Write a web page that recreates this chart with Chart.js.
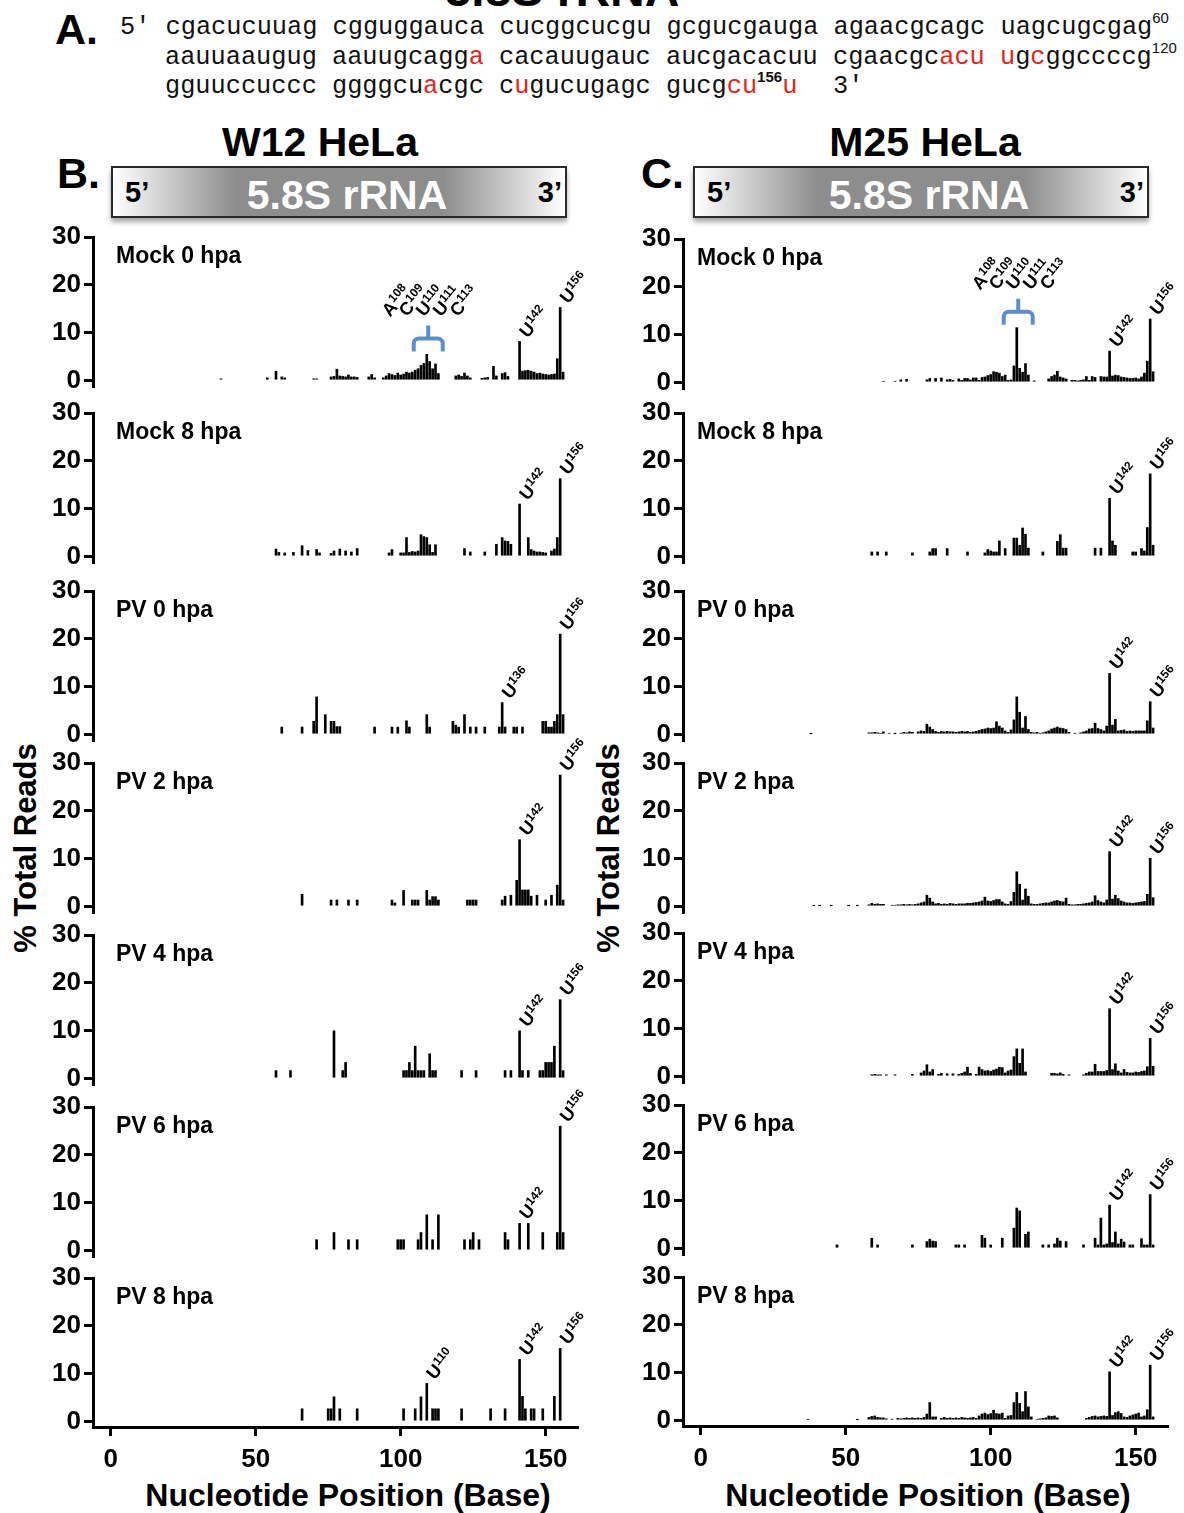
<!DOCTYPE html>
<html>
<head>
<meta charset="utf-8">
<script src="https://cdn.jsdelivr.net/npm/chart.js@4.4.1/dist/chart.umd.min.js"></script>
<style>
body{margin:0;width:1184px;height:1513px;position:relative;overflow:hidden;background:#fff;font-family:"Liberation Sans",Arial,sans-serif;color:#000}
.t{position:absolute;white-space:pre;line-height:1;font-weight:bold}
.seq{position:absolute;white-space:pre;line-height:1;font-family:"Liberation Mono","Courier New",monospace;font-size:25.3px;color:#111}
.seq .r{color:#e2261b}
.seq sup{font-family:"Liberation Sans",Arial,sans-serif;font-size:15px;vertical-align:baseline;position:relative;top:-11px}
.seq sup.b{font-weight:bold}
.box{position:absolute;top:166px;width:456px;height:52px;box-sizing:border-box;border:2px solid #2a2a2a;background:linear-gradient(to right,#fff 0%,#8d8d8d 27%,#8d8d8d 73%,#fff 100%);box-shadow:0 4px 5px rgba(0,0,0,.35)}
.ytitle{position:absolute;font-weight:bold;font-size:31px;white-space:nowrap;line-height:1;transform:translate(-50%,-50%) rotate(-90deg)}
.xtitle{position:absolute;top:1479px;width:600px;text-align:center;font-weight:bold;font-size:32px;line-height:1;white-space:nowrap}
canvas{position:absolute}
</style>
</head>
<body>
<div class="t" style="left:0;width:1124px;text-align:center;top:-34px;font-size:48px">5.8S rRNA</div>
<div class="t" style="left:55px;top:8px;font-size:43px">A.</div>
<div class="seq" style="left:120px;top:15px">5′ cgacucuuag cgguggauca cucggcucgu gcgucgauga agaacgcagc uagcugcgag<sup>60</sup></div>
<div class="seq" style="left:165px;top:45px">aauuaaugug aauugcagg<span class="r">a</span> cacauugauc aucgacacuu cgaacgc<span class="r">acu</span> <span class="r">u</span>g<span class="r">c</span>ggccccg<sup>120</sup></div>
<div class="seq" style="left:165px;top:74px">gguuccuccc ggggcu<span class="r">a</span>cgc c<span class="r">u</span>gucugagc gucg<span class="r">cu</span><sup class="b">156</sup><span class="r">u</span></div>
<div class="seq" style="left:833px;top:74px">3′</div>

<div class="t" style="left:120px;width:400px;text-align:center;top:122px;font-size:41px">W12 HeLa</div>
<div class="t" style="left:725px;width:400px;text-align:center;top:122px;font-size:41px">M25 HeLa</div>
<div class="t" style="left:57px;top:152px;font-size:43px">B.</div>
<div class="t" style="left:641px;top:152px;font-size:43px">C.</div>
<div class="box" style="left:111px">
  <div class="t" style="left:12px;top:10px;font-size:29px">5’</div>
  <div class="t" style="left:8px;width:452px;text-align:center;top:7px;font-size:41px;color:#fff">5.8S rRNA</div>
  <div class="t" style="right:3px;top:10px;font-size:29px">3’</div>
</div>
<div class="box" style="left:693px">
  <div class="t" style="left:12px;top:10px;font-size:29px">5’</div>
  <div class="t" style="left:8px;width:452px;text-align:center;top:7px;font-size:41px;color:#fff">5.8S rRNA</div>
  <div class="t" style="right:3px;top:10px;font-size:29px">3’</div>
</div>
<div class="ytitle" style="left:25px;top:848px">% Total Reads</div>
<div class="ytitle" style="left:608px;top:848px">% Total Reads</div>
<div class="xtitle" style="left:48px">Nucleotide Position (Base)</div>
<div class="xtitle" style="left:628px">Nucleotide Position (Base)</div>

<script>
// tick values and panel names
const xTicks = [0, 50, 100, 150];
const yTicks = [0, 10, 20, 30];
const panelTitles = ['Mock 0 hpa', 'Mock 8 hpa', 'PV 0 hpa', 'PV 2 hpa', 'PV 4 hpa', 'PV 6 hpa', 'PV 8 hpa'];

// W12 HeLa: [plotted position, % total reads]
const w12Mock0 = [[38,0.4],[54,0.6],[57,2],[59,0.8],[60,0.6],[70,0.4],[71,0.4],[76,0.8],[77,0.9],[78,2.4],[79,1],[80,0.9],[81,0.8],[82,1.2],[83,0.8],[84,0.8],[85,0.7],[89,0.8],[90,1.3],[91,0.6],[94,0.6],[95,1],[96,1.5],[97,1.3],[98,1.1],[99,1.6],[100,1.2],[101,1.4],[102,1.8],[103,1.6],[104,1.8],[105,2.2],[106,2.5],[107,3.2],[108,3.6],[109,5.5],[110,4],[111,2.5],[112,3.5],[113,1.5],[119,1],[120,1.2],[121,0.9],[122,1.6],[123,1],[124,0.6],[128,0.5],[129,0.6],[130,0.7],[132,3],[133,1],[135,1.5],[136,1.7],[137,0.9],[141,8.2],[142,2],[143,2.1],[144,2.2],[145,2],[146,1.8],[147,1.5],[148,1.6],[149,1.4],[150,1.3],[151,1.2],[152,1.3],[153,1.4],[154,4.6],[155,15.3],[156,1.8]];
const w12Mock8 = [[57,1.6],[58,0.9],[60,0.8],[63,0.9],[66,2.3],[68,1.3],[71,1.5],[72,0.8],[76,0.7],[77,1.2],[79,1.6],[81,1.2],[83,1],[85,1.7],[96,0.8],[97,1.5],[100,0.8],[101,0.8],[102,4],[103,0.9],[104,1.1],[105,1],[106,1.2],[107,4.6],[108,4.2],[109,4],[110,2.5],[111,0.9],[112,2.5],[122,1.7],[124,1],[129,1],[133,2.6],[135,4],[136,3.3],[137,3.2],[138,2.6],[141,11],[144,4],[145,1.5],[146,1.2],[147,1],[148,1],[149,0.9],[150,0.8],[152,1.2],[153,1.6],[154,4],[155,16.3]];
const w12PV0 = [[59,1.6],[66,1.6],[70,2.8],[71,7.9],[74,4.2],[76,2.8],[77,2.8],[78,1.7],[79,1.7],[91,1.6],[97,1.6],[99,1.6],[102,2.9],[103,1.6],[109,4.2],[110,1.6],[118,2.8],[119,2],[120,1.6],[122,4.2],[124,1.6],[126,1.6],[129,1.6],[134,1.6],[135,6.7],[136,1.6],[139,1.6],[140,1.6],[142,1.6],[149,2.8],[150,2.8],[151,1.6],[152,1.6],[153,2.8],[154,4.2],[155,21],[156,4.2]];
const w12PV2 = [[66,2.6],[76,1.4],[78,1.4],[82,1.4],[85,1.4],[97,1.4],[98,0.8],[101,3.4],[104,1.4],[105,1.4],[106,1.4],[109,3.4],[110,1.4],[111,2.1],[112,2.1],[113,1.4],[123,1.4],[124,1.4],[125,1.4],[126,1.4],[135,1.4],[136,2.2],[138,2.4],[140,5.5],[141,14],[142,3.5],[143,3.5],[144,3.5],[145,2.2],[147,2.4],[150,1.4],[152,2.4],[154,4.5],[155,27.5],[156,1.4]];
const w12PV4 = [[57,1.7],[62,1.7],[77,10],[80,1.7],[81,3.4],[101,1.7],[102,1.7],[103,3.4],[104,1.7],[105,6.8],[106,1.7],[107,1.7],[108,1.7],[110,5.2],[111,1.7],[112,1.7],[121,1.7],[126,1.7],[136,1.7],[138,1.7],[141,10],[142,1.7],[144,1.7],[148,1.7],[149,1.7],[150,3.4],[151,3.4],[152,3.4],[153,6.8],[155,16.5],[156,1.7]];
const w12PV6 = [[71,2.3],[77,3.8],[82,2.3],[85,2.3],[99,2.3],[100,2.3],[101,2.3],[106,2.3],[107,3.8],[109,7.5],[111,2.3],[113,7.5],[122,2.3],[124,2.3],[125,3.8],[127,2.3],[136,3.8],[137,2.3],[141,5.7],[144,5.7],[149,3.8],[154,3.8],[155,26],[156,3.8]];
const w12PV8 = [[66,2.7],[75,2.7],[76,2.7],[77,5.2],[79,2.7],[85,2.7],[101,2.7],[105,2.7],[107,5.2],[109,8],[111,2.7],[112,2.7],[113,2.7],[121,2.7],[131,2.7],[136,2.7],[141,13],[142,5.3],[143,2.7],[145,2.7],[146,2.7],[149,2.7],[153,5.3],[155,15.3]];

// M25 HeLa
const m25Mock0 = [[63,0.3],[67,0.3],[69,0.6],[71,0.7],[78,0.6],[79,0.9],[81,0.9],[83,1],[85,0.6],[86,0.7],[87,0.5],[89,0.8],[90,0.5],[91,0.9],[92,0.9],[93,0.6],[94,1],[95,1],[96,0.5],[97,1.1],[98,1.2],[99,1.5],[100,1.7],[101,2.3],[102,2.2],[103,2],[104,1.3],[105,1.6],[106,0.5],[107,0.6],[108,3.5],[109,11.5],[110,3],[111,2.2],[112,4],[113,1.6],[115,0.4],[120,0.8],[121,1.3],[122,1.6],[123,2.4],[124,1.2],[125,1],[126,0.8],[128,0.5],[129,0.5],[130,0.4],[131,0.5],[132,0.6],[133,1.3],[134,0.5],[135,1.3],[136,1.1],[138,1.3],[139,1.2],[140,1.2],[141,6.6],[142,1.4],[143,1.6],[144,1.5],[145,1.2],[146,1.1],[147,1],[148,0.9],[149,0.9],[150,1],[151,0.8],[152,1.2],[153,2],[154,4.5],[155,13.3],[156,2.3]];
const m25Mock8 = [[59,1],[61,1],[64,1],[73,0.8],[79,1],[80,1.7],[81,1.7],[85,1.7],[92,1],[98,0.8],[99,1.5],[100,1.2],[101,1],[102,1],[103,3.3],[105,1.7],[108,3.9],[109,3.9],[110,2.4],[111,6],[112,4.7],[113,1.8],[118,1],[123,3.2],[124,4.6],[125,1.8],[126,1.8],[136,1.8],[138,1.8],[141,12.2],[142,3.3],[143,2.4],[149,1],[150,1],[152,1.7],[153,1.2],[154,6.1],[155,17.3],[156,2.4]];
const m25PV0 = [[38,0.2],[58,0.4],[59,0.4],[60,0.5],[61,0.4],[62,0.3],[63,0.6],[65,0.3],[67,0.2],[69,0.3],[70,0.5],[71,0.4],[72,0.6],[73,0.5],[75,0.6],[76,0.8],[77,0.7],[78,2.2],[79,1.6],[80,1.1],[81,0.7],[82,0.5],[83,0.7],[84,0.6],[85,0.7],[86,0.6],[87,0.6],[88,0.5],[89,0.6],[90,0.7],[91,0.6],[92,0.7],[93,0.5],[94,0.6],[95,0.7],[96,0.9],[97,1.1],[98,1.2],[99,1.4],[100,1.3],[101,1.4],[102,2.7],[103,1.8],[104,1.4],[105,0.8],[106,0.5],[107,1],[108,3.1],[109,7.9],[110,4.7],[111,1.4],[112,3.8],[113,1.1],[114,0.5],[115,0.4],[116,0.5],[117,0.3],[118,0.4],[119,0.6],[120,0.8],[121,1.2],[122,1.4],[123,1.6],[124,1.4],[125,1.3],[126,1.1],[127,0.5],[129,0.3],[131,0.4],[132,0.6],[133,0.8],[134,1.2],[135,1.3],[136,2.4],[137,1.3],[138,1.1],[139,0.8],[140,1.8],[141,12.8],[142,2],[143,3.2],[144,0.8],[145,0.9],[146,1],[147,0.7],[148,0.8],[149,0.7],[150,0.8],[151,0.8],[152,0.8],[153,0.8],[154,2.9],[155,6.9],[156,1.4]];
const m25PV2 = [[39,0.2],[41,0.2],[45,0.2],[51,0.2],[54,0.2],[58,0.4],[59,0.7],[60,0.5],[61,0.6],[62,0.5],[63,0.5],[66,0.3],[67,0.3],[68,0.4],[69,0.4],[70,0.5],[71,0.4],[72,0.5],[73,0.4],[74,0.5],[75,0.6],[76,0.8],[77,1],[78,2.4],[79,1.8],[80,1],[81,0.6],[82,0.7],[83,0.5],[84,0.6],[85,0.5],[86,0.7],[87,0.6],[88,0.5],[89,0.6],[90,0.6],[91,0.6],[92,0.7],[93,0.7],[94,0.8],[95,0.9],[96,1],[97,1.2],[98,2],[99,1.2],[100,1.1],[101,1.3],[102,1.5],[103,1.5],[104,1],[105,0.6],[106,0.5],[107,1.1],[108,3],[109,7.3],[110,4.7],[111,1.4],[112,3.7],[113,2.2],[114,0.6],[115,0.5],[116,0.5],[117,0.6],[118,0.7],[119,0.8],[120,0.8],[121,1],[122,1.2],[123,1.3],[124,1.1],[125,1],[126,1.8],[127,0.5],[128,0.4],[129,0.4],[130,0.5],[131,0.5],[132,0.6],[133,0.7],[134,0.8],[135,1],[136,2.3],[137,1.3],[138,1],[139,0.8],[140,1.4],[141,11.5],[142,1.6],[143,2.4],[144,1.7],[145,1.2],[146,1],[147,0.8],[148,0.8],[149,0.7],[150,0.8],[151,0.9],[152,1],[153,1.1],[154,2.6],[155,10.1],[156,1.9]];
const m25PV4 = [[59,0.4],[60,0.5],[61,0.4],[62,0.4],[64,0.4],[67,0.4],[73,0.5],[76,0.8],[77,1.2],[78,2.5],[79,1],[80,1.5],[82,0.5],[83,0.7],[85,0.6],[87,0.6],[89,0.5],[90,0.7],[91,1],[92,2],[93,0.7],[95,0.5],[96,2],[97,1.5],[98,1.2],[99,1.3],[100,1.1],[101,1.4],[102,1.6],[103,2],[104,1.9],[105,0.8],[106,1.2],[107,1.4],[108,4.2],[109,5.8],[110,2.8],[111,5.8],[112,1],[121,0.7],[122,0.7],[123,0.6],[124,0.8],[125,0.5],[127,0.4],[132,0.4],[133,0.7],[134,1],[135,1],[136,2.6],[137,1.1],[138,1.1],[139,1.1],[140,1.3],[141,14.2],[142,1.5],[143,2.7],[144,1.2],[145,0.8],[146,1.5],[147,0.9],[148,0.8],[149,0.8],[150,1],[151,0.9],[152,1.1],[153,1.2],[154,2.1],[155,8],[156,2.2]];
const m25PV6 = [[47,0.8],[59,2.2],[61,0.8],[73,0.8],[78,1.5],[79,2],[80,1.6],[81,1.5],[88,0.8],[89,0.8],[91,0.8],[97,2.8],[98,2.2],[100,0.8],[104,2.2],[108,4.3],[109,8.5],[110,7.9],[112,3],[113,3.5],[118,0.8],[120,0.8],[122,1],[123,2.2],[124,1.6],[126,1.5],[132,0.8],[136,2.2],[137,0.8],[138,6.4],[139,0.8],[140,1],[141,9.1],[142,1.3],[143,3.5],[144,1],[145,2],[146,1.4],[148,0.8],[149,0.8],[152,2.1],[153,0.8],[154,0.8],[155,11.3],[156,0.8]];
const m25PV8 = [[37,0.3],[54,0.2],[58,0.7],[59,0.9],[60,1],[61,0.7],[62,0.6],[63,0.6],[64,0.4],[66,0.3],[68,0.5],[69,0.4],[70,0.5],[71,0.6],[72,0.5],[73,0.6],[74,0.5],[75,0.6],[76,0.5],[77,0.7],[78,1.4],[79,3.8],[80,0.8],[81,0.8],[83,0.5],[84,0.7],[85,0.5],[86,0.6],[87,0.5],[88,0.6],[89,0.5],[90,0.7],[91,0.6],[92,0.5],[93,0.6],[94,0.7],[95,0.5],[96,1],[97,1.4],[98,1.6],[99,1.3],[100,1.5],[101,2.2],[102,1.5],[103,1.4],[104,1.6],[105,0.5],[106,1],[107,1.1],[108,3.8],[109,5.9],[110,3.6],[111,1.9],[112,6.1],[113,2.9],[114,0.8],[116,0.3],[117,0.4],[118,0.5],[119,0.6],[120,1],[121,0.9],[122,1],[123,0.6],[133,0.5],[134,0.7],[135,0.9],[136,1],[137,0.8],[138,0.9],[139,1],[140,0.9],[141,10.2],[142,1.1],[143,1.7],[144,1.9],[145,1.5],[146,0.8],[147,0.7],[148,1],[149,1.2],[150,1.4],[151,1.6],[152,0.8],[153,1],[154,2.3],[155,11.6],[156,0.8]];

// labelled peaks per panel: [base, nucleotide number, plotted position]
const w12Labels = [
  [['U',142,141],['U',156,155]], [['U',142,141],['U',156,155]], [['U',136,135],['U',156,155]],
  [['U',142,141],['U',156,155]], [['U',142,141],['U',156,155]], [['U',142,141],['U',156,155]],
  [['U',110,109],['U',142,141],['U',156,155]]
];
const m25Labels = [
  [['U',142,141],['U',156,155]], [['U',142,141],['U',156,155]], [['U',142,141],['U',156,155]],
  [['U',142,141],['U',156,155]], [['U',142,141],['U',156,155]], [['U',142,141],['U',156,155]],
  [['U',142,141],['U',156,155]]
];
// cluster under the blue bracket in the Mock 0 panels
const bracketBases = [['A',108],['C',109],['U',110],['U',111],['C',113]];
const bracketSpan = [104.5, 109.5, 114.5];

const FONT = '"Liberation Sans", Arial, sans-serif';

function drawMark(ctx, x, y, base, num) {
  ctx.save();
  ctx.translate(x, y);
  ctx.rotate(-50 * Math.PI / 180);
  ctx.textBaseline = 'middle';
  ctx.textAlign = 'left';
  ctx.font = 'bold 18px ' + FONT;
  ctx.fillText(base, 0, 0);
  const w = ctx.measureText(base).width;
  ctx.font = 'bold 12px ' + FONT;
  ctx.fillText(String(num), w + 0.5, -5);
  ctx.restore();
}

const panelDecor = {
  id: 'panelDecor',
  afterDatasetsDraw(chart, args, opts) {
    const ctx = chart.ctx, xs = chart.scales.x, ys = chart.scales.y, area = chart.chartArea;
    const pts = chart.data.datasets[0].data;
    const valAt = p => { const d = pts.find(q => q.x === p); return d ? d.y : 0; };
    ctx.save();
    ctx.fillStyle = '#000';
    ctx.font = 'bold 23px ' + FONT;
    ctx.textBaseline = 'middle';
    ctx.textAlign = 'left';
    ctx.fillText(opts.title, area.left + opts.titleDx, area.top + 20);
    opts.marks.forEach(([b, n, p]) => {
      drawMark(ctx, xs.getPixelForValue(p) + 4, ys.getPixelForValue(valAt(p)) - 6, b, n);
    });
    if (opts.bracket) {
      const [b0, bc, b1] = bracketSpan;
      const peak = Math.max(...pts.filter(q => q.x >= b0 && q.x <= b1).map(q => q.y));
      const xa = xs.getPixelForValue(b0), xm = xs.getPixelForValue(bc), xb = xs.getPixelForValue(b1);
      const yb = ys.getPixelForValue(peak) - 3, ym = yb - 13, yt = ym - 13;
      ctx.strokeStyle = '#5b8fca';
      ctx.lineWidth = 4;
      ctx.lineJoin = 'round';
      ctx.beginPath();
      ctx.moveTo(xa, yb);
      ctx.arcTo(xa, ym, xm, ym, 5);
      ctx.arcTo(xb, ym, xb, yb, 5);
      ctx.lineTo(xb, yb);
      ctx.moveTo(xm, ym);
      ctx.lineTo(xm, yt);
      ctx.stroke();
      bracketBases.forEach(([b, n], i) => drawMark(ctx, xm - 42 + i * 17, yt - 11, b, n));
    }
    ctx.restore();
  }
};

const columns = [
  { series: [w12Mock0, w12Mock8, w12PV0, w12PV2, w12PV4, w12PV6, w12PV8], labels: w12Labels,
    left: 23, titleDx: 23, tops: [237, 413, 591, 763, 935, 1107, 1278] },
  { series: [m25Mock0, m25Mock8, m25PV0, m25PV2, m25PV4, m25PV6, m25PV8], labels: m25Labels,
    left: 613, titleDx: 14, tops: [239, 413, 591, 763, 933, 1105, 1277] }
];

const axisGrid = { drawOnChartArea: false, color: '#000', lineWidth: 3, tickLength: 9, offset: false };
const axisBorder = { color: '#000', width: 3 };

columns.forEach(col => {
  col.series.forEach((pts, i) => {
    const last = i === col.series.length - 1;
    const padBottom = last ? 0 : 30;
    const cv = document.createElement('canvas');
    cv.width = 569;
    cv.height = 45 + 149 + (last ? 86 : padBottom);
    cv.style.left = col.left + 'px';
    cv.style.top = (col.tops[i] - 45) + 'px';
    document.body.appendChild(cv);
    new Chart(cv, {
      type: 'bar',
      data: { datasets: [{ data: pts.map(([x, y]) => ({ x, y })), backgroundColor: '#000', barThickness: 2 }] },
      options: {
        responsive: false,
        animation: false,
        layout: { padding: { top: 45, right: 15, left: 0, bottom: padBottom } },
        plugins: {
          legend: { display: false },
          tooltip: { enabled: false },
          panelDecor: { title: panelTitles[i], titleDx: col.titleDx, marks: col.labels[i], bracket: i === 0 }
        },
        scales: {
          x: {
            type: 'linear', min: -6.1, max: 160.8, offset: false, display: last,
            afterBuildTicks: a => { a.ticks = xTicks.map(v => ({ value: v })); },
            afterFit: a => { a.height = last ? 86 : 0; },
            grid: axisGrid, border: axisBorder,
            ticks: { font: { size: 26, weight: 'bold', family: FONT }, color: '#000', padding: 8, maxRotation: 0 }
          },
          y: {
            min: -1.1, max: 30,
            afterBuildTicks: a => { a.ticks = yTicks.map(v => ({ value: v })); },
            afterFit: a => { a.width = 70; },
            grid: axisGrid, border: axisBorder,
            ticks: { font: { size: 26, weight: 'bold', family: FONT }, color: '#000', padding: 3 }
          }
        }
      },
      plugins: [panelDecor]
    });
  });
});
</script>
</body>
</html>
